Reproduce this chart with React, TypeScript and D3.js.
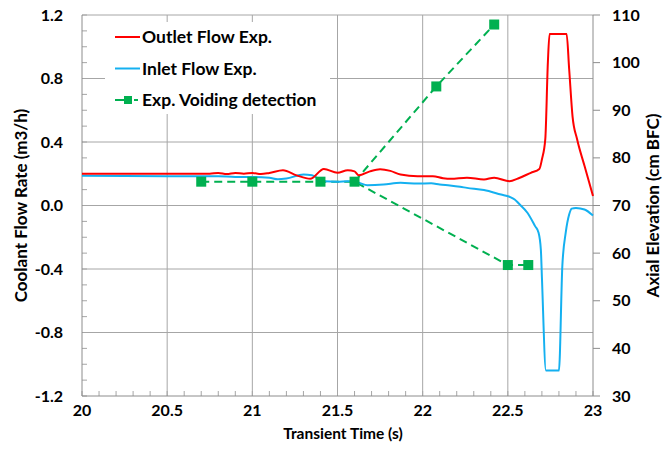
import React, { useEffect, useRef } from 'react';
import * as d3 from 'd3';

// outlet flow (m3/h)
const outletTime = [20.0, 20.3, 20.6, 20.75, 20.8, 20.85, 20.9, 20.95, 21.0, 21.05, 21.1, 21.18, 21.26, 21.34, 21.42, 21.5, 21.56, 21.6, 21.625, 21.69, 21.75, 21.81, 21.87, 21.97, 22.06, 22.12, 22.165, 22.26, 22.36, 22.42, 22.51, 22.56, 22.635, 22.685, 22.7, 22.72, 22.735, 22.745, 22.845, 22.86, 22.88, 22.906, 22.95, 23.0];
const outletFlow = [0.2, 0.2, 0.2, 0.2, 0.205, 0.198, 0.205, 0.2, 0.205, 0.198, 0.205, 0.222, 0.19, 0.168, 0.23, 0.206, 0.222, 0.215, 0.19, 0.215, 0.228, 0.218, 0.195, 0.185, 0.185, 0.172, 0.168, 0.175, 0.164, 0.175, 0.153, 0.17, 0.206, 0.23, 0.29, 0.42, 0.9, 1.08, 1.08, 0.86, 0.56, 0.42, 0.25, 0.06];

// inlet flow (m3/h)
const inletTime = [20.0, 20.5, 20.8, 20.9, 21.0, 21.1, 21.15, 21.2, 21.3, 21.35, 21.42, 21.5, 21.56, 21.625, 21.675, 21.77, 21.87, 21.97, 22.05, 22.1, 22.16, 22.22, 22.26, 22.36, 22.46, 22.51, 22.54, 22.56, 22.615, 22.66, 22.68, 22.694, 22.7, 22.724, 22.8, 22.82, 22.84, 22.86, 22.875, 22.9, 22.95, 23.0];
const inletFlow = [0.187, 0.185, 0.185, 0.18, 0.18, 0.175, 0.165, 0.17, 0.195, 0.19, 0.152, 0.149, 0.152, 0.143, 0.128, 0.132, 0.143, 0.138, 0.14, 0.132, 0.126, 0.118, 0.111, 0.097, 0.069, 0.055, 0.038, 0.017, -0.046, -0.13, -0.17, -0.28, -0.45, -1.04, -1.04, -0.38, -0.17, -0.057, -0.02, -0.015, -0.025, -0.063];

// voiding detection (cm BFC), two branches from 21.6 s
const voidTimeLow = [20.7, 21.0, 21.4, 21.6, 22.5, 22.62];
const voidElevLow = [75, 75, 75, 75, 57.5, 57.5];
const voidTimeUp = [21.6, 22.08, 22.42];
const voidElevUp = [75, 95, 108];

const xTicks = [20, 20.5, 21, 21.5, 22, 22.5, 23];
const yLeftTicks = [-1.2, -0.8, -0.4, 0, 0.4, 0.8, 1.2];
const yRightTicks = [30, 40, 50, 60, 70, 80, 90, 100, 110];

const RED = '#ff0000';
const BLUE = '#14b0f0';
const GREEN = '#00b050';
const GRID = '#a6a6a6';
const FONT = 'Lato, "Open Sans", sans-serif';

const App = () => {
    const svgRef = useRef<SVGSVGElement>(null);

    useEffect(() => {
        const width = 663;
        const height = 449;
        const m = { top: 15, right: 70, bottom: 53, left: 82 };
        const innerW = width - m.left - m.right;
        const innerH = height - m.top - m.bottom;

        const svg = d3.select(svgRef.current);
        svg.selectAll('*').remove();
        svg.attr('width', width).attr('height', height);

        const x = d3.scaleLinear().domain([20, 23]).range([0, innerW]);
        const yL = d3.scaleLinear().domain([-1.2, 1.2]).range([innerH, 0]);
        const yR = d3.scaleLinear().domain([30, 110]).range([innerH, 0]);

        const g = svg.append('g').attr('transform', `translate(${m.left},${m.top})`);

        // gridlines
        g.selectAll('.hgrid')
            .data(yLeftTicks.filter(v => v > -1.2))
            .enter().append('line')
            .attr('x1', 0).attr('x2', innerW)
            .attr('y1', d => yL(d)).attr('y2', d => yL(d))
            .attr('stroke', GRID).attr('stroke-width', 1);
        g.selectAll('.vgrid')
            .data(xTicks.filter(v => v > 20 && v < 23))
            .enter().append('line')
            .attr('x1', d => x(d)).attr('x2', d => x(d))
            .attr('y1', 0).attr('y2', innerH)
            .attr('stroke', GRID).attr('stroke-width', 1);

        // minor ticks
        const minorY = d3.range(-12, 13).map(i => i / 10);
        g.selectAll('.minY')
            .data(minorY)
            .enter().append('line')
            .attr('x1', 0).attr('x2', 5)
            .attr('y1', d => yL(d)).attr('y2', d => yL(d))
            .attr('stroke', GRID);
        const minorX = d3.range(0, 31).map(i => 20 + i / 10);
        g.selectAll('.minX')
            .data(minorX)
            .enter().append('line')
            .attr('x1', d => x(d)).attr('x2', d => x(d))
            .attr('y1', innerH).attr('y2', innerH - 5)
            .attr('stroke', GRID);

        // axes lines
        g.append('line').attr('x1', 0).attr('x2', 0).attr('y1', 0).attr('y2', innerH).attr('stroke', '#8c8c8c');
        g.append('line').attr('x1', 0).attr('x2', innerW).attr('y1', innerH).attr('y2', innerH).attr('stroke', '#8c8c8c');
        g.append('line').attr('x1', innerW).attr('x2', innerW).attr('y1', 0).attr('y2', innerH).attr('stroke', '#8c8c8c');
        g.selectAll('.rtick')
            .data(yRightTicks)
            .enter().append('line')
            .attr('x1', innerW).attr('x2', innerW + 7)
            .attr('y1', d => yR(d)).attr('y2', d => yR(d))
            .attr('stroke', '#8c8c8c');

        // tick labels
        g.selectAll('.ylab')
            .data(yLeftTicks)
            .enter().append('text')
            .attr('x', -19).attr('y', d => yL(d)).attr('dy', '0.35em')
            .attr('text-anchor', 'end')
            .style('font-family', FONT).style('font-weight', 'bold').style('font-size', '16px')
            .text(d => d.toFixed(1));
        g.selectAll('.rlab')
            .data(yRightTicks)
            .enter().append('text')
            .attr('x', innerW + 19).attr('y', d => yR(d)).attr('dy', '0.35em')
            .style('font-family', FONT).style('font-weight', 'bold').style('font-size', '16px')
            .text(d => d);
        g.selectAll('.xlab')
            .data(xTicks)
            .enter().append('text')
            .attr('x', d => x(d)).attr('y', innerH + 20)
            .attr('text-anchor', 'middle')
            .style('font-family', FONT).style('font-weight', 'bold').style('font-size', '16px')
            .text(d => d);

        // axis titles
        svg.append('text')
            .attr('transform', `translate(27,${m.top + yL(0)}) rotate(-90)`)
            .attr('text-anchor', 'middle')
            .style('font-family', FONT).style('font-weight', 'bold').style('font-size', '17px')
            .text('Coolant Flow Rate (m3/h)');
        svg.append('text')
            .attr('transform', `translate(659,${m.top + innerH / 2}) rotate(-90)`)
            .attr('text-anchor', 'middle')
            .style('font-family', FONT).style('font-weight', 'bold').style('font-size', '17px')
            .text('Axial Elevation (cm BFC)');
        svg.append('text')
            .attr('x', 343).attr('y', 439)
            .attr('text-anchor', 'middle')
            .style('font-family', FONT).style('font-weight', 'bold').style('font-size', '15.5px')
            .text('Transient Time (s)');

        // legend background
        svg.append('rect')
            .attr('x', 105).attr('y', 22).attr('width', 225).attr('height', 92)
            .attr('fill', '#fff');

        // series
        const lineL = d3.line<[number, number]>()
            .x(d => x(d[0])).y(d => yL(d[1]))
            .curve(d3.curveMonotoneX);
        const lineR = d3.line<[number, number]>()
            .x(d => x(d[0])).y(d => yR(d[1]));

        const voidLow = voidTimeLow.map((t, i) => [t, voidElevLow[i]] as [number, number]);
        const voidUp = voidTimeUp.map((t, i) => [t, voidElevUp[i]] as [number, number]);

        [voidLow, voidUp].forEach(pts => {
            g.append('path')
                .attr('d', lineR(pts))
                .attr('fill', 'none')
                .attr('stroke', GREEN).attr('stroke-width', 2)
                .attr('stroke-dasharray', '8,5');
        });

        g.append('path')
            .attr('d', lineL(inletTime.map((t, i) => [t, inletFlow[i]] as [number, number])))
            .attr('fill', 'none').attr('stroke', BLUE).attr('stroke-width', 2);
        g.append('path')
            .attr('d', lineL(outletTime.map((t, i) => [t, outletFlow[i]] as [number, number])))
            .attr('fill', 'none').attr('stroke', RED).attr('stroke-width', 2);

        g.selectAll('.mk')
            .data(voidLow.concat(voidUp.slice(1)))
            .enter().append('rect')
            .attr('x', d => x(d[0]) - 5).attr('y', d => yR(d[1]) - 5)
            .attr('width', 10).attr('height', 10)
            .attr('fill', GREEN);

        // legend
        const legend = [
            { label: 'Outlet Flow Exp.', color: RED, dash: false },
            { label: 'Inlet Flow Exp.', color: BLUE, dash: false },
            { label: 'Exp. Voiding detection', color: GREEN, dash: true },
        ];
        const lg = svg.append('g');
        legend.forEach((d, i) => {
            const yy = 37 + i * 31.5;
            if (d.dash) {
                lg.append('line').attr('x1', 115).attr('x2', 124).attr('y1', yy).attr('y2', yy)
                    .attr('stroke', d.color).attr('stroke-width', 2);
                lg.append('rect').attr('x', 124).attr('y', yy - 4).attr('width', 8).attr('height', 8).attr('fill', d.color);
                lg.append('line').attr('x1', 134).attr('x2', 138).attr('y1', yy).attr('y2', yy)
                    .attr('stroke', d.color).attr('stroke-width', 2);
            } else {
                lg.append('line').attr('x1', 115).attr('x2', 140).attr('y1', yy).attr('y2', yy)
                    .attr('stroke', d.color).attr('stroke-width', 2);
            }
            lg.append('text')
                .attr('x', 142).attr('y', yy).attr('dy', '0.35em')
                .style('font-family', FONT).style('font-weight', 'bold').style('font-size', '17.5px')
                .text(d.label);
        });
    }, []);

    return <svg ref={svgRef} style={{ position: 'absolute', left: 0, top: 0 }}></svg>;
};

export default App;
